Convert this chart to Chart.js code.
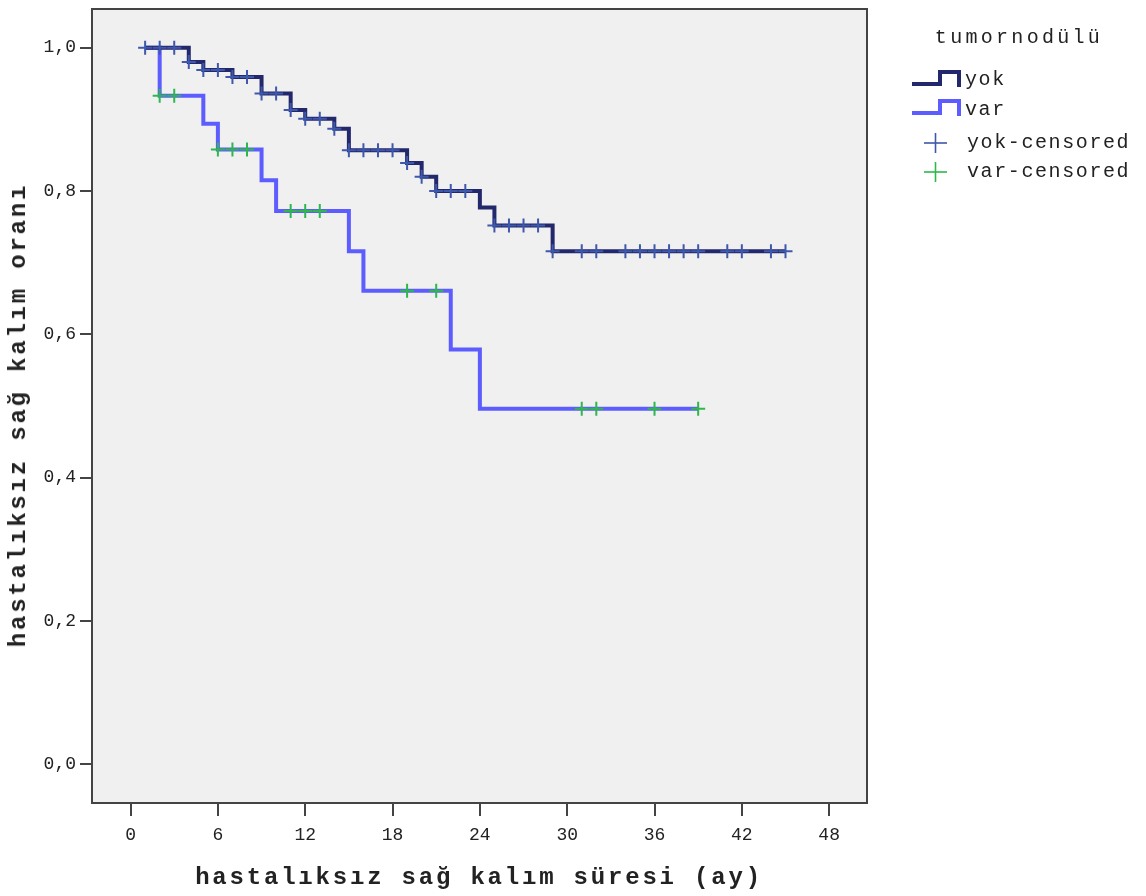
<!DOCTYPE html>
<html>
<head>
<meta charset="utf-8">
<script src="https://cdn.jsdelivr.net/npm/chart.js@4/dist/chart.umd.min.js"></script>
<style>
  html, body { margin: 0; padding: 0; background: #ffffff; }
  #wrap { position: relative; width: 1146px; height: 896px; font-family: "Liberation Mono", "DejaVu Sans Mono", monospace; color: #222; }
  #grafico { position: absolute; left: 0; top: 0; }
  .eixoTitulo { position: absolute; font-weight: bold; font-size: 24px; letter-spacing: 2.8px; white-space: nowrap; line-height: 26px; }
  #tituloX { left: 479px; top: 865px; transform: translateX(-50%); }
  #tituloY { left: 19px; top: 415px; transform: translate(-50%, -50%) rotate(-90deg); }
  .leg { position: absolute; white-space: nowrap; line-height: 20px; }
  #legTitulo { left: 1019px; top: 28px; transform: translateX(-50%); font-size: 20px; letter-spacing: 3.3px; }
  .legItem { font-size: 20px; letter-spacing: 1.6px; }
  svg.legIcone { position: absolute; left: 0; top: 0; }
</style>
</head>
<body>
<div id="wrap">
  <canvas id="grafico" width="1146" height="896"></canvas>
  <div class="eixoTitulo" id="tituloX">hastalıksız sağ kalım süresi (ay)</div>
  <div class="eixoTitulo" id="tituloY">hastalıksız sağ kalım oranı</div>
  <div class="leg" id="legTitulo">tumornodülü</div>
  <svg class="legIcone" width="1146" height="200">
    <polyline points="912,84 940,84 940,72 959,72 959,87" fill="none" stroke="#23276b" stroke-width="4"/>
    <polyline points="912,113 940,113 940,101 959,101 959,116" fill="none" stroke="#5c5cff" stroke-width="4"/>
    <line x1="924" y1="143" x2="947" y2="143" stroke="#3e58ac" stroke-width="1.6"/>
    <line x1="935.5" y1="133" x2="935.5" y2="153" stroke="#3e58ac" stroke-width="1.6"/>
    <line x1="924" y1="172" x2="947" y2="172" stroke="#2eb84b" stroke-width="1.6"/>
    <line x1="935.5" y1="162" x2="935.5" y2="182" stroke="#2eb84b" stroke-width="1.6"/>
  </svg>
  <div class="leg legItem" style="left:965px; top:70px;">yok</div>
  <div class="leg legItem" style="left:965px; top:100px;">var</div>
  <div class="leg legItem" style="left:967px; top:133px;">yok-censored</div>
  <div class="leg legItem" style="left:967px; top:162px;">var-censored</div>
</div>
<script>
// --- DADOS ---
// tempos (meses) em que a curva muda de nível, e o nível após a queda
const yokTimes = [1, 4, 5, 7, 9, 11, 12, 14, 15, 19, 20, 21, 24, 25, 29, 45];
const yokSurv = [1.0, 0.980, 0.969, 0.959, 0.936, 0.913, 0.901, 0.887, 0.857, 0.839, 0.820, 0.800, 0.777, 0.752, 0.716, 0.716];
const yokCensored = [1, 2, 3, 4, 5, 6, 7, 8, 9, 10, 11, 12, 13, 14, 15, 16, 17, 18, 19, 20, 21, 22, 23, 25, 26, 27, 28, 29, 31, 32, 34, 35, 36, 37, 38, 39, 41, 42, 44, 45];

const varTimes = [1, 2, 5, 6, 9, 10, 15, 16, 22, 24, 39];
const varSurv = [1.0, 0.933, 0.894, 0.858, 0.815, 0.772, 0.716, 0.661, 0.579, 0.496, 0.496];
const varCensored = [2, 3, 6, 7, 8, 11, 12, 13, 19, 21, 31, 32, 36, 39];

const xTicks = [0, 6, 12, 18, 24, 30, 36, 42, 48];
const yTicks = [0, 0.2, 0.4, 0.6, 0.8, 1.0];

const COR_YOK = '#23276b';
const COR_VAR = '#5c5cff';
const COR_YOK_CENS = '#3e58ac';
const COR_VAR_CENS = '#2eb84b';

// nível da curva num tempo t (último degrau com tempo <= t)
function nivelEm(tempos, niveis, t) {
    let v = niveis[0];
    for (let i = 0; i < tempos.length; i++) {
        if (tempos[i] <= t) v = niveis[i];
    }
    return v;
}

const pontos = (tempos, niveis) => tempos.map((t, i) => ({ x: t, y: niveis[i] }));
const censuras = (cens, tempos, niveis) => cens.map(t => ({ x: t, y: nivelEm(tempos, niveis, t) }));

// fundo cinza e moldura da área do gráfico
const molduraPlugin = {
    id: 'moldura',
    beforeDraw(chart) {
        const { ctx, chartArea: a } = chart;
        ctx.save();
        ctx.fillStyle = '#f0f0f0';
        ctx.fillRect(a.left, a.top, a.right - a.left, a.bottom - a.top);
        ctx.restore();
    },
    afterDraw(chart) {
        const { ctx, chartArea: a } = chart;
        ctx.save();
        ctx.strokeStyle = '#444444';
        ctx.lineWidth = 2;
        ctx.strokeRect(a.left, a.top, a.right - a.left, a.bottom - a.top);
        ctx.restore();
    }
};

const fonteTick = { family: '"Liberation Mono", "DejaVu Sans Mono", monospace', size: 18 };

new Chart(document.getElementById('grafico').getContext('2d'), {
    type: 'line',
    data: {
        datasets: [
            { label: 'yok-censored', data: censuras(yokCensored, yokTimes, yokSurv), showLine: false, pointStyle: 'cross', pointRadius: 7, pointBorderWidth: 2, borderColor: COR_YOK_CENS, backgroundColor: COR_YOK_CENS, order: 0 },
            { label: 'var-censored', data: censuras(varCensored, varTimes, varSurv), showLine: false, pointStyle: 'cross', pointRadius: 7, pointBorderWidth: 2, borderColor: COR_VAR_CENS, backgroundColor: COR_VAR_CENS, order: 0 },
            { label: 'yok', data: pontos(yokTimes, yokSurv), stepped: true, borderColor: COR_YOK, borderWidth: 4, pointRadius: 0, fill: false, order: 1 },
            { label: 'var', data: pontos(varTimes, varSurv), stepped: true, borderColor: COR_VAR, borderWidth: 4, pointRadius: 0, fill: false, order: 2 }
        ]
    },
    options: {
        responsive: false,
        animation: false,
        layout: { padding: { left: 0, top: 8, right: 279, bottom: 0 } },
        plugins: { legend: { display: false }, tooltip: { enabled: false } },
        scales: {
            x: {
                type: 'linear',
                min: -2.65,
                max: 50.6,
                afterBuildTicks: s => { s.ticks = xTicks.map(v => ({ value: v })); },
                afterFit: s => { s.height = 93; },
                ticks: { color: '#222', font: fonteTick, padding: 8, maxRotation: 0, callback: v => String(v) },
                grid: { drawOnChartArea: false, tickLength: 13, color: '#444', lineWidth: 2 },
                border: { display: false }
            },
            y: {
                type: 'linear',
                min: -0.054,
                max: 1.054,
                afterBuildTicks: s => { s.ticks = yTicks.map(v => ({ value: v })); },
                // largura fixa e sem folga extra em cima/baixo pra área bater com a figura
                afterFit: s => { s.width = 92; s.paddingTop = 0; s.paddingBottom = 0; },
                ticks: { color: '#222', font: fonteTick, padding: 4, callback: v => v.toFixed(1).replace('.', ',') },
                grid: { drawOnChartArea: false, tickLength: 12, color: '#444', lineWidth: 2 },
                border: { display: false }
            }
        }
    },
    plugins: [molduraPlugin]
});
</script>
</body>
</html>
